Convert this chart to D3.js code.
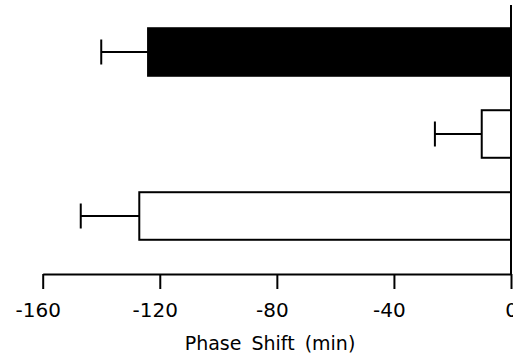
<!DOCTYPE html>
<html>
<head>
<meta charset="utf-8">
<script src="https://cdn.jsdelivr.net/npm/d3@7"></script>
<style>
  html, body { margin: 0; padding: 0; background: #fff; }
  svg { display: block; font-family: "DejaVu Sans", Verdana, sans-serif; }
</style>
</head>
<body>
<div id="chart"></div>
<script>
// Groups, top to bottom
const groups = ["group1", "group2", "group3"];
// Mean phase shift (min) and error (SEM) per group
const shifts = [-124, -10, -127];
const errors = [16, 16, 20];
// Axis ticks
const tickValues = [-160, -120, -80, -40, 0];
const axisTitle = "Phase Shift (min)";

const width = 513, height = 362;

const svg = d3.select("#chart")
  .append("svg")
  .attr("width", width)
  .attr("height", height);

// Scales
const x = d3.scaleLinear().domain([-160, 0]).range([42.7, 511]);
const y = d3.scaleBand().domain(groups).range([11, 257])
  .paddingInner(0.42).paddingOuter(0.21);
const fill = d3.scaleOrdinal().domain(groups).range(["#000", "#fff", "#fff"]);

const axisY = 274;

const rows = groups.map((g, i) => ({ group: g, value: shifts[i], err: errors[i] }));

// Error bars (drawn to the left of each bar)
const eb = svg.append("g").attr("class", "errorbars")
  .attr("stroke", "#000").attr("stroke-width", 2).attr("fill", "none");

eb.selectAll("line.stem")
  .data(rows)
  .enter().append("line")
  .attr("class", "stem")
  .attr("x1", d => x(d.value))
  .attr("x2", d => x(d.value - d.err))
  .attr("y1", d => y(d.group) + y.bandwidth() / 2)
  .attr("y2", d => y(d.group) + y.bandwidth() / 2);

eb.selectAll("line.cap")
  .data(rows)
  .enter().append("line")
  .attr("class", "cap")
  .attr("x1", d => x(d.value - d.err))
  .attr("x2", d => x(d.value - d.err))
  .attr("y1", d => y(d.group) + y.bandwidth() / 2 - 12.5)
  .attr("y2", d => y(d.group) + y.bandwidth() / 2 + 12.5);

// Bars
svg.append("g").attr("class", "bars")
  .selectAll("rect")
  .data(rows)
  .enter().append("rect")
  .attr("x", d => x(d.value))
  .attr("y", d => y(d.group))
  .attr("width", d => x(0) - x(d.value))
  .attr("height", y.bandwidth())
  .attr("fill", d => fill(d.group))
  .attr("stroke", "#000")
  .attr("stroke-width", 2);

// Vertical zero line
svg.append("line")
  .attr("x1", x(0)).attr("x2", x(0))
  .attr("y1", 5).attr("y2", axisY)
  .attr("stroke", "#000")
  .attr("stroke-width", 2);

// X axis (plain hyphen for the minus sign, like the original)
const xAxis = svg.append("g")
  .attr("transform", "translate(0," + axisY + ")")
  .call(d3.axisBottom(x)
    .tickValues(tickValues)
    .tickFormat(d => String(d))
    .tickSize(15)
    .tickSizeOuter(0)
    .tickPadding(14));

xAxis.select(".domain").attr("stroke", "#000").attr("stroke-width", 2);
xAxis.selectAll(".tick line").attr("stroke", "#000").attr("stroke-width", 2);
xAxis.selectAll(".tick text")
  .attr("fill", "#000")
  .attr("font-size", 20)
  .attr("font-family", "DejaVu Sans, Verdana, sans-serif")
  .attr("dx", d => d < 0 ? -5 : 0);

// Axis title
svg.append("text")
  .attr("x", 270)
  .attr("y", 350)
  .attr("text-anchor", "middle")
  .attr("font-size", 19)
  .style("word-spacing", "4px")
  .attr("fill", "#000")
  .text(axisTitle);
</script>
</body>
</html>
